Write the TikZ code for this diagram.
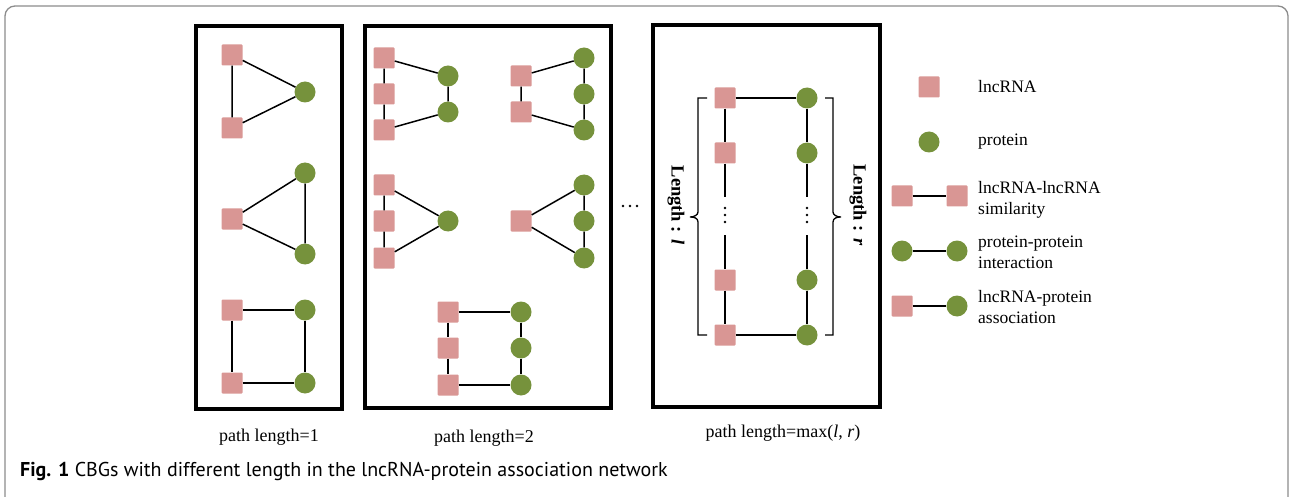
\documentclass[tikz,border=0pt]{standalone}
\usepackage{fontspec}
\setmainfont{Liberation Serif}
\newfontfamily\capfont{PT Sans}
\definecolor{lncpink}{HTML}{D99694}
\definecolor{protgreen}{HTML}{76923C}
\definecolor{framegray}{HTML}{8C8C8C}
\tikzset{
  lnc/.style={rectangle, fill=lncpink, minimum size=21pt, inner sep=0pt, rounded corners=1pt},
  prot/.style={circle, fill=protgreen, minimum size=21pt, inner sep=0pt},
  edge/.style={line width=1.5pt, black},
  panel/.style={line width=3.5pt, black},
  lbl/.style={font=\fontsize{18}{21}\selectfont, inner sep=0pt},
  legtxt/.style={font=\fontsize{17.5}{21}\selectfont, anchor=west, align=left, inner sep=0pt},
  lenlbl/.style={font=\fontsize{18.5}{21}\selectfont\bfseries, rotate=-90, inner sep=0pt},
}
\begin{document}
\begin{tikzpicture}[x=1pt, y=-1pt]
\useasboundingbox (0,0) rectangle (1290,497);
% outer figure frame
\draw[framegray, line width=1.3pt, rounded corners=10pt] (5,520) -- (5,6) -- (1288,6) -- (1288,520);

% ---------- panel: path length = 1 ----------
\node[panel, draw, minimum width=146pt, minimum height=383pt, inner sep=0pt] (box1) at (269,217.5) {};
\node[lnc] (p1s1) at (232,55) {};
\node[lnc] (p1s2) at (232,128) {};
\node[prot] (p1c1) at (305,92) {};
\draw[edge] (p1s1) -- (p1s2) (p1s1) -- (p1c1) (p1s2) -- (p1c1);
\node[lnc] (p1s3) at (232,219) {};
\node[prot] (p1c2) at (305,173) {};
\node[prot] (p1c3) at (305,254) {};
\draw[edge] (p1s3) -- (p1c2) (p1s3) -- (p1c3) (p1c2) -- (p1c3);
\node[lnc] (p1s4) at (232,310) {};
\node[lnc] (p1s5) at (232,383) {};
\node[prot] (p1c4) at (305,310) {};
\node[prot] (p1c5) at (305,383) {};
\draw[edge] (p1s4) -- (p1s5) (p1s4) -- (p1c4) (p1s5) -- (p1c5) (p1c4) -- (p1c5);
\node[lbl] (cap1) at (269,437) {path length=1};

% ---------- panel: path length = 2 ----------
\node[panel, draw, minimum width=246pt, minimum height=382pt, inner sep=0pt] (box2) at (488,217) {};
% three lncRNAs + two proteins
\node[lnc] (aS1) at (384,58) {};
\node[lnc] (aS2) at (384,94) {};
\node[lnc] (aS3) at (384,130) {};
\node[prot] (aC1) at (448,76) {};
\node[prot] (aC2) at (448,112) {};
\draw[edge] (aS1) -- (aS2) -- (aS3) (aS1) -- (aC1) (aS3) -- (aC2) (aC1) -- (aC2);
% two lncRNAs + three proteins
\node[lnc] (bS1) at (521,76) {};
\node[lnc] (bS2) at (521,112) {};
\node[prot] (bC1) at (584,58) {};
\node[prot] (bC2) at (584,94) {};
\node[prot] (bC3) at (584,130) {};
\draw[edge] (bS1) -- (bS2) (bS1) -- (bC1) (bS2) -- (bC3) (bC1) -- (bC2) -- (bC3);
% three lncRNAs + one protein
\node[lnc] (cS1) at (384,185) {};
\node[lnc] (cS2) at (384,221) {};
\node[lnc] (cS3) at (384,258) {};
\node[prot] (cC1) at (448,221) {};
\draw[edge] (cS1) -- (cS2) -- (cS3) (cS1) -- (cC1) (cS3) -- (cC1);
% one lncRNA + three proteins
\node[lnc] (dS1) at (521,221) {};
\node[prot] (dC1) at (584,185) {};
\node[prot] (dC2) at (584,221) {};
\node[prot] (dC3) at (584,258) {};
\draw[edge] (dS1) -- (dC1) (dS1) -- (dC3) (dC1) -- (dC2) -- (dC3);
% ladder
\node[lnc] (eS1) at (448,312) {};
\node[lnc] (eS2) at (448,348) {};
\node[lnc] (eS3) at (448,385) {};
\node[prot] (eC1) at (521,312) {};
\node[prot] (eC2) at (521,348) {};
\node[prot] (eC3) at (521,385) {};
\draw[edge] (eS1) -- (eS2) -- (eS3) (eC1) -- (eC2) -- (eC3) (eS1) -- (eC1) (eS3) -- (eC3);
\node[lbl] (cap2) at (484,438) {path length=2};

% ellipsis between panels
\foreach \dx in {-7,0,7} \fill (630+\dx,206) circle (1.4pt);

% ---------- panel: path length = max(l, r) ----------
\node[panel, draw, minimum width=227pt, minimum height=382pt, inner sep=0pt] (box3) at (766.5,216) {};
\node[lnc] (fS1) at (725,98) {};
\node[lnc] (fS2) at (725,153) {};
\node[lnc] (fS3) at (725,280) {};
\node[lnc] (fS4) at (725,335) {};
\node[prot] (fC1) at (807,98) {};
\node[prot] (fC2) at (807,153) {};
\node[prot] (fC3) at (807,280) {};
\node[prot] (fC4) at (807,335) {};
\coordinate (fSa) at (725,197);
\coordinate (fSb) at (725,235);
\coordinate (fCa) at (807,197);
\coordinate (fCb) at (807,235);
\draw[edge] (fS1) -- (fS2) -- (fSa) (fSb) -- (fS3) -- (fS4);
\draw[edge] (fC1) -- (fC2) -- (fCa) (fCb) -- (fC3) -- (fC4);
\draw[edge] (fS1) -- (fC1) (fS4) -- (fC4);
\foreach \dy in {-7,0,7} {
  \fill (725,215+\dy) circle (1.4pt);
  \fill (807,215+\dy) circle (1.4pt);
}
% side brackets
\draw[edge, line width=1.3pt] (707,98) -- (698,98) -- (698,212) .. controls (698,215) and (694,217) .. (690,217)
  .. controls (694,217) and (698,218) .. (698,222) -- (698,335) -- (707,335);
\draw[edge, line width=1.3pt] (825,98) -- (833,98) -- (833,212) .. controls (833,215) and (837,217) .. (841,217)
  .. controls (837,217) and (833,218) .. (833,222) -- (833,335) -- (825,335);
\node[lenlbl] (lenl) at (676,205) {Length : \textit{l}};
\node[lenlbl] (lenr) at (858,205) {Length : \textit{r}};
\node[lbl] (cap3) at (783,433) {path length=max(\textit{l}, \textit{r})};

% ---------- legend ----------
\node[lnc] (gS) at (929,87) {};
\node[legtxt] (gSt) at (978,87) {lncRNA};
\node[prot] (gC) at (929,142) {};
\node[legtxt] (gCt) at (978,142) {protein};
\node[lnc] (hS1) at (902,196) {};
\node[lnc] (hS2) at (957,196) {};
\draw[edge] (hS1) -- (hS2);
\node[legtxt] (hT) at (978,200) {lncRNA-lncRNA\\similarity};
\node[prot] (iC1) at (902,251) {};
\node[prot] (iC2) at (957,251) {};
\draw[edge] (iC1) -- (iC2);
\node[legtxt] (iT) at (978,252) {protein-protein\\interaction};
\node[lnc] (jS) at (902,306) {};
\node[prot] (jC) at (957,306) {};
\draw[edge] (jS) -- (jC);
\node[legtxt] (jT) at (978,307) {lncRNA-protein\\association};

% ---------- caption ----------
\node[anchor=west, inner sep=0pt, font=\capfont\fontsize{20}{24}\selectfont] (figcap) at (20,471)
  {\textbf{Fig. 1} CBGs with different length in the lncRNA-protein association network};
\end{tikzpicture}
\end{document}
